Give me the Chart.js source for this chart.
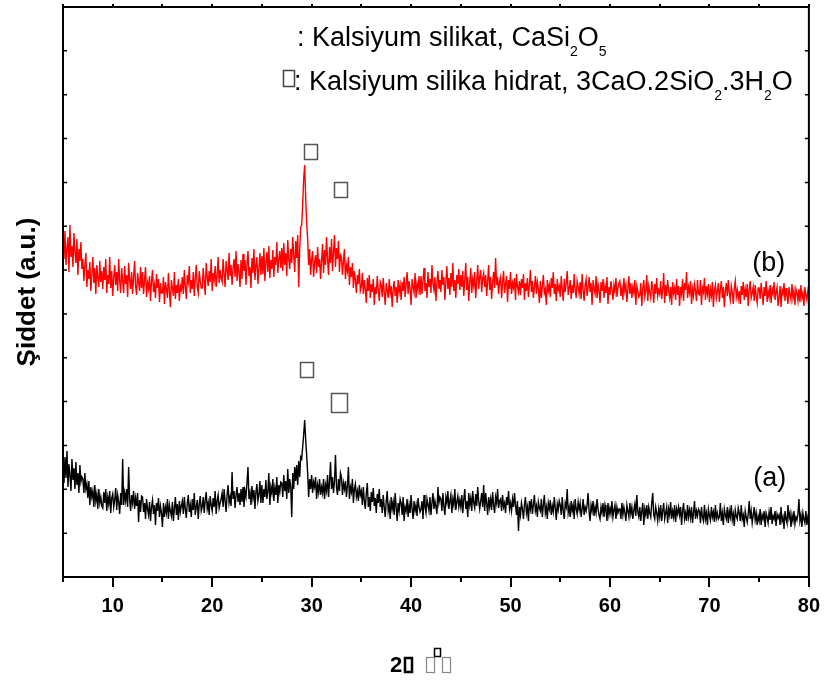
<!doctype html>
<html lang="tr">
<head>
  <meta charset="utf-8">
  <title>XRD - Kalsiyum silikat</title>
  <script src="https://cdn.jsdelivr.net/npm/chart.js"></script>
  <style>
    html, body { margin: 0; padding: 0; background: #fff; }
    #wrap { width: 827px; height: 680px; position: relative; }
  </style>
</head>
<body>
  <div id="wrap"><canvas id="xrdChart"></canvas></div>
  <script>
    // 2theta grid: 5 .. 80 deg, 0.1 deg step (one row = 2 deg)
    const thetaStart = 5;
    const thetaStep = 0.1;
    const xTickLabels = [10, 20, 30, 40, 50, 60, 70, 80];
    const xMinorTicks = [5, 15, 25, 35, 45, 55, 65, 75];

    // (a) black pattern
    const intensityA = [
      108, 94, 120, 99, 126, 90, 113, 102, 86, 118, 97, 109, 88, 115, 92, 104, 84, 112, 95, 100,
      98, 84, 104, 88, 93, 79, 96, 72, 90, 80, 86, 70, 92, 76, 83, 68, 88, 74, 80, 71,
      69, 85, 74, 88, 66, 80, 73, 86, 64, 79, 83, 70, 77, 89, 67, 82, 75, 63, 84, 72,
      118, 72, 84, 76, 88, 70, 110, 78, 66, 82, 74, 86, 68, 79, 71, 84, 55, 77, 65, 81,
      80, 65, 74, 58, 78, 68, 62, 75, 56, 70, 77, 63, 72, 52, 74, 66, 79, 60, 71, 64,
      50, 74, 60, 70, 64, 78, 58, 72, 66, 61, 75, 56, 69, 80, 62, 73, 57, 76, 65, 71,
      76, 63, 80, 68, 59, 74, 82, 65, 72, 60, 78, 67, 84, 62, 70, 77, 58, 73, 81, 66,
      70, 80, 64, 77, 85, 68, 74, 62, 81, 72, 66, 79, 70, 86, 63, 76, 82, 69, 74, 78,
      84, 70, 88, 76, 65, 82, 92, 74, 80, 71, 105, 78, 86, 69, 82, 90, 75, 84, 72, 88,
      75, 90, 70, 86, 80, 94, 110, 78, 84, 72, 91, 79, 87, 68, 85, 93, 76, 82, 96, 74,
      92, 74, 88, 80, 97, 78, 86, 104, 72, 90, 84, 98, 76, 89, 82, 100, 74, 92, 85, 95,
      94, 80, 102, 86, 96, 78, 108, 84, 98, 90, 60, 104, 88, 110, 96, 112, 92, 116, 100, 120,
      118, 130, 142, 157, 138, 122, 104, 80, 98, 88, 102, 84, 95, 90, 100, 78, 92, 85, 98, 82,
      90, 84, 98, 78, 92, 86, 102, 80, 95, 115, 88, 100, 84, 96, 122, 90, 82, 98, 86, 104,
      100, 82, 94, 88, 96, 80, 91, 110, 78, 90, 85, 98, 74, 88, 93, 80, 86, 76, 92, 82,
      86, 72, 90, 76, 68, 84, 94, 70, 80, 66, 85, 75, 89, 71, 79, 64, 83, 74, 88, 70,
      78, 64, 82, 70, 60, 76, 86, 66, 72, 58, 80, 68, 75, 62, 84, 70, 56, 74, 66, 78,
      74, 62, 80, 56, 70, 66, 78, 60, 72, 64, 82, 68, 58, 76, 66, 72, 61, 79, 70, 65,
      68, 76, 58, 82, 70, 64, 78, 72, 66, 80, 62, 74, 84, 68, 76, 70, 63, 90, 74, 80,
      78, 66, 84, 70, 62, 80, 74, 86, 68, 76, 82, 64, 78, 72, 88, 67, 75, 81, 70, 77,
      70, 82, 64, 78, 88, 68, 76, 60, 84, 72, 79, 66, 86, 74, 69, 83, 71, 90, 76, 68,
      76, 84, 70, 92, 66, 84, 74, 62, 80, 70, 78, 67, 85, 72, 64, 80, 74, 88, 69, 76,
      78, 66, 82, 70, 74, 64, 80, 72, 86, 68, 74, 66, 78, 70, 84, 72, 62, 76, 46, 70,
      62, 74, 68, 58, 72, 80, 64, 70, 56, 76, 68, 78, 63, 72, 82, 66, 71, 60, 75, 69,
      66, 78, 60, 72, 82, 64, 70, 58, 74, 68, 77, 62, 71, 65, 80, 69, 57, 73, 67, 76,
      72, 62, 80, 66, 58, 74, 70, 88, 64, 70, 60, 76, 66, 72, 58, 78, 68, 63, 75, 67,
      74, 60, 68, 78, 62, 70, 66, 72, 84, 65, 56, 72, 66, 76, 61, 70, 64, 78, 68, 62,
      58, 70, 64, 74, 60, 72, 66, 56, 74, 62, 69, 63, 76, 60, 67, 72, 58, 70, 64, 68,
      68, 58, 74, 62, 70, 64, 56, 72, 66, 60, 74, 63, 70, 58, 67, 73, 61, 82, 65, 60,
      70, 56, 66, 74, 52, 68, 62, 72, 58, 70, 64, 60, 74, 84, 62, 58, 70, 64, 56, 68,
      60, 72, 56, 66, 74, 58, 64, 70, 54, 68, 62, 75, 58, 66, 60, 72, 55, 68, 63, 70,
      62, 70, 52, 66, 74, 58, 64, 56, 72, 60, 67, 59, 70, 54, 64, 76, 58, 66, 61, 68,
      66, 54, 70, 60, 56, 72, 58, 64, 52, 68, 62, 57, 70, 60, 65, 55, 72, 59, 64, 58,
      60, 74, 56, 64, 52, 68, 62, 58, 70, 54, 66, 60, 72, 57, 63, 51, 67, 61, 58, 69,
      64, 56, 72, 58, 62, 50, 66, 60, 55, 63, 76, 58, 66, 54, 62, 70, 57, 64, 52, 61,
      56, 68, 52, 62, 58, 66, 50, 64, 60, 54, 65, 57, 70, 53, 61, 58, 66, 51, 63, 59,
      62, 52, 70, 56, 60, 48, 66, 58, 54, 72, 59, 64, 50, 62, 56, 66, 53, 60, 57, 63,
      78, 56, 62, 50, 64, 58, 54, 66, 52, 60, 56
    ];

    // (b) red pattern
    const intensityB = [
      334, 318, 346, 312, 328, 340, 305, 352, 320, 331, 310, 344, 326, 314, 338, 302, 328, 316, 335, 308,
      318, 296, 312, 324, 290, 307, 298, 315, 286, 303, 320, 294, 309, 283, 312, 299, 290, 316, 295, 306,
      288, 310, 297, 318, 284, 302, 293, 320, 289, 306, 281, 299, 312, 292, 305, 286, 318, 296, 284, 309,
      296, 284, 311, 293, 302, 280, 314, 297, 288, 305, 283, 300, 316, 291, 282, 304, 295, 286, 310, 289,
      305, 283, 297, 310, 280, 294, 288, 301, 276, 296, 307, 285, 292, 279, 303, 289, 298, 275, 294, 284,
      284, 300, 273, 295, 288, 279, 304, 286, 270, 297, 289, 281, 305, 278, 292, 284, 298, 276, 291, 287,
      300, 283, 307, 290, 278, 302, 295, 311, 284, 297, 288, 305, 281, 299, 312, 290, 284, 306, 296, 289,
      289, 309, 296, 282, 314, 300, 291, 306, 295, 318, 286, 304, 297, 311, 290, 302, 320, 294, 307, 299,
      295, 318, 303, 290, 316, 307, 297, 324, 301, 312, 292, 309, 318, 300, 326, 296, 313, 305, 290, 317,
      298, 323, 306, 317, 292, 314, 326, 301, 310, 289, 319, 304, 328, 297, 312, 320, 293, 308, 324, 302,
      321, 303, 329, 296, 314, 325, 305, 331, 299, 317, 308, 327, 300, 320, 312, 335, 304, 318, 326, 309,
      329, 306, 334, 312, 324, 301, 337, 318, 308, 328, 314, 340, 322, 305, 336, 319, 342, 290, 328, 350,
      352, 372, 398, 412, 380, 355, 338, 312, 328, 302, 318, 326, 300, 315, 322, 304, 330, 310, 318, 298,
      316, 333, 304, 327, 312, 340, 318, 302, 330, 314, 338, 306, 325, 342, 310, 329, 318, 336, 305, 322,
      320, 302, 316, 328, 298, 312, 306, 320, 292, 310, 300, 314, 289, 306, 297, 284, 302, 293, 308, 286,
      290, 304, 283, 297, 288, 274, 299, 286, 302, 279, 293, 285, 298, 272, 290, 283, 301, 287, 276, 295,
      292, 280, 299, 285, 272, 294, 287, 279, 298, 284, 291, 270, 288, 296, 281, 290, 274, 297, 285, 292,
      277, 295, 286, 300, 280, 292, 305, 283, 296, 288, 272, 298, 290, 284, 304, 279, 293, 287, 301, 282,
      301, 283, 297, 309, 286, 294, 279, 305, 290, 298, 284, 312, 293, 287, 300, 276, 295, 306, 288, 297,
      285, 307, 292, 300, 277, 296, 311, 288, 299, 282, 304, 290, 314, 286, 297, 279, 302, 293, 308, 287,
      302, 290, 306, 281, 298, 314, 287, 300, 276, 295, 309, 284, 298, 291, 305, 279, 296, 312, 288, 300,
      307, 285, 299, 304, 290, 302, 281, 296, 312, 287, 300, 278, 295, 305, 289, 319, 292, 300, 283, 296,
      300, 279, 295, 306, 284, 293, 301, 275, 297, 288, 305, 283, 294, 289, 299, 277, 303, 290, 285, 296,
      282, 298, 289, 303, 277, 294, 286, 299, 280, 292, 307, 285, 296, 279, 290, 301, 283, 295, 288, 274,
      296, 279, 291, 302, 284, 288, 272, 297, 286, 292, 280, 299, 289, 305, 283, 293, 276, 298, 287, 291,
      280, 301, 288, 276, 298, 285, 294, 306, 282, 289, 297, 278, 292, 284, 303, 287, 279, 296, 290, 283,
      295, 278, 303, 287, 276, 292, 298, 281, 290, 300, 285, 294, 272, 297, 288, 283, 301, 279, 293, 286,
      274, 295, 286, 298, 279, 291, 284, 300, 273, 290, 282, 296, 288, 277, 292, 285, 299, 280, 289, 294,
      296, 281, 289, 277, 299, 286, 292, 275, 288, 301, 283, 294, 279, 290, 284, 297, 272, 291, 286, 280,
      282, 294, 271, 289, 297, 280, 286, 302, 276, 291, 285, 279, 296, 288, 274, 293, 283, 299, 281, 287,
      283, 296, 278, 288, 304, 274, 292, 281, 297, 286, 279, 290, 272, 295, 284, 289, 277, 298, 282, 291,
      271, 290, 283, 298, 276, 294, 287, 305, 279, 290, 284, 296, 273, 288, 281, 293, 286, 276, 297, 283,
      282, 297, 272, 289, 285, 299, 277, 291, 283, 293, 275, 288, 281, 295, 270, 287, 292, 279, 286, 294,
      275, 288, 296, 279, 290, 270, 286, 294, 281, 297, 284, 277, 291, 285, 273, 289, 296, 280, 287, 278,
      286, 273, 291, 282, 295, 277, 288, 280, 293, 271, 287, 296, 279, 284, 290, 276, 292, 281, 274, 289,
      289, 278, 294, 284, 272, 290, 281, 296, 275, 286, 280, 292, 274, 288, 283, 295, 277, 285, 290, 271,
      279, 291, 270, 287, 283, 294, 276, 289, 281, 273, 290, 282, 277, 293, 279, 286, 272, 288, 284, 276,
      288, 275, 292, 279, 284, 271, 290, 282, 277, 286, 280
    ];

    // phase markers above the peaks (2theta, intensity level)
    const peakMarks = [
      { theta: 29.85, level: 426, big: false },
      { theta: 32.95, level: 388, big: false },
      { theta: 29.45, level: 208, big: false },
      { theta: 32.8, level: 174, big: true }
    ];

    const sampleTags = [
      { text: '(a)', theta: 74.4, level: 98 },
      { text: '(b)', theta: 74.3, level: 313 }
    ];

    const phaseLegend = [
      [{ t: ': Kalsiyum silikat, CaSi' }, { t: '2', sub: true }, { t: 'O' }, { t: '5', sub: true }],
      [{ t: ': Kalsiyum silika hidrat, 3CaO.2SiO' }, { t: '2', sub: true }, { t: '.3H' }, { t: '2', sub: true }, { t: 'O' }]
    ];

    const toPoints = arr => arr.map((v, i) => ({ x: +(thetaStart + i * thetaStep).toFixed(1), y: v }));
    const FONT = '"Liberation Sans", Arial, sans-serif';

    function drawRich(ctx, parts, x, y) {
      parts.forEach(p => {
        if (p.sub) {
          ctx.font = '14px ' + FONT;
          ctx.fillText(p.t, x, y + 10);
        } else {
          ctx.font = '27px ' + FONT;
          ctx.fillText(p.t, x, y);
        }
        x += ctx.measureText(p.t).width;
      });
    }

    const framePlugin = {
      id: 'frame',
      afterDraw(chart) {
        const { ctx, chartArea: a, scales: { x, y } } = chart;
        ctx.save();
        ctx.strokeStyle = '#000';
        ctx.lineWidth = 2;
        ctx.strokeRect(a.left, a.top, a.right - a.left, a.bottom - a.top);

        // x ticks, bottom (outward) and top
        xTickLabels.concat(xMinorTicks).forEach(v => {
          const px = Math.round(x.getPixelForValue(v));
          const len = xTickLabels.includes(v) ? 10 : 5;
          ctx.beginPath();
          ctx.moveTo(px, a.bottom);
          ctx.lineTo(px, a.bottom + len);
          ctx.moveTo(px, a.top);
          ctx.lineTo(px, a.top - 3);
          ctx.stroke();
        });
        // y ticks, inward on both sides
        ctx.lineWidth = 1.5;
        for (let i = 1; i < 13; i++) {
          const py = a.top + i * (a.bottom - a.top) / 13;
          ctx.beginPath();
          ctx.moveTo(a.left, py);
          ctx.lineTo(a.left + 4, py);
          ctx.moveTo(a.right, py);
          ctx.lineTo(a.right - 4, py);
          ctx.stroke();
        }

        // phase legend
        ctx.fillStyle = '#000';
        ctx.textBaseline = 'alphabetic';
        ctx.textAlign = 'left';
        drawRich(ctx, phaseLegend[0], 297, 46);
        drawRich(ctx, phaseLegend[1], 294, 90);
        ctx.strokeStyle = '#444';
        ctx.lineWidth = 1.5;
        ctx.strokeRect(283.5, 70.5, 11, 16);

        // sample tags
        ctx.font = '27px ' + FONT;
        sampleTags.forEach(s => {
          ctx.fillText(s.text, x.getPixelForValue(s.theta), y.getPixelForValue(s.level) + 7);
        });

        // peak markers
        ctx.strokeStyle = '#555';
        ctx.lineWidth = 1.5;
        peakMarks.forEach(m => {
          const w = m.big ? 16 : 13, h = m.big ? 19 : 15;
          const cx = x.getPixelForValue(m.theta), cy = y.getPixelForValue(m.level);
          ctx.strokeRect(Math.round(cx - w / 2) + 0.5, Math.round(cy - h / 2) + 0.5, w, h);
        });

        // x axis title
        ctx.font = 'bold 22px ' + FONT;
        ctx.fillStyle = '#000';
        ctx.fillText('2', 390, 672);
        ctx.strokeStyle = '#000';
        ctx.lineWidth = 2.5;
        ctx.strokeRect(405, 658, 7, 14);
        ctx.lineWidth = 1.5;
        ctx.strokeRect(434.5, 648.5, 6, 8);
        ctx.strokeStyle = '#888';
        ctx.lineWidth = 1.2;
        ctx.strokeRect(426.5, 657.5, 8, 15);
        ctx.strokeRect(442.5, 657.5, 8, 15);
        ctx.restore();
      }
    };

    new Chart(document.getElementById('xrdChart'), {
      type: 'line',
      data: {
        datasets: [
          {
            label: '(a)',
            data: toPoints(intensityA),
            borderColor: '#000000',
            borderWidth: 1.4,
            pointRadius: 0,
            tension: 0
          },
          {
            label: '(b)',
            data: toPoints(intensityB),
            borderColor: '#ff0000',
            borderWidth: 1.4,
            pointRadius: 0,
            tension: 0
          }
        ]
      },
      options: {
        responsive: true,
        maintainAspectRatio: false,
        animation: false,
        layout: { padding: { top: 7, right: 14, left: 0, bottom: 0 } },
        plugins: {
          legend: { display: false },
          tooltip: { enabled: false }
        },
        scales: {
          x: {
            type: 'linear',
            min: 5,
            max: 80,
            grid: { display: false, drawTicks: true, tickLength: 10 },
            border: { display: false },
            afterBuildTicks: ax => { ax.ticks = xTickLabels.map(v => ({ value: v })); },
            afterFit: ax => { ax.height = 103; },
            ticks: {
              color: '#000',
              padding: 7,
              maxRotation: 0,
              autoSkip: false,
              font: { family: FONT, size: 20, weight: 'bold' }
            }
          },
          y: {
            min: 0,
            max: 570,
            grid: { display: false, drawTicks: false },
            border: { display: false },
            ticks: { display: false },
            afterFit: ax => { ax.width = 63; },
            title: {
              display: true,
              text: 'Şiddet (a.u.)',
              color: '#000',
              padding: { top: 12, bottom: 0 },
              font: { family: FONT, size: 26, weight: 'bold' }
            }
          }
        }
      },
      plugins: [framePlugin]
    });
  </script>
</body>
</html>
